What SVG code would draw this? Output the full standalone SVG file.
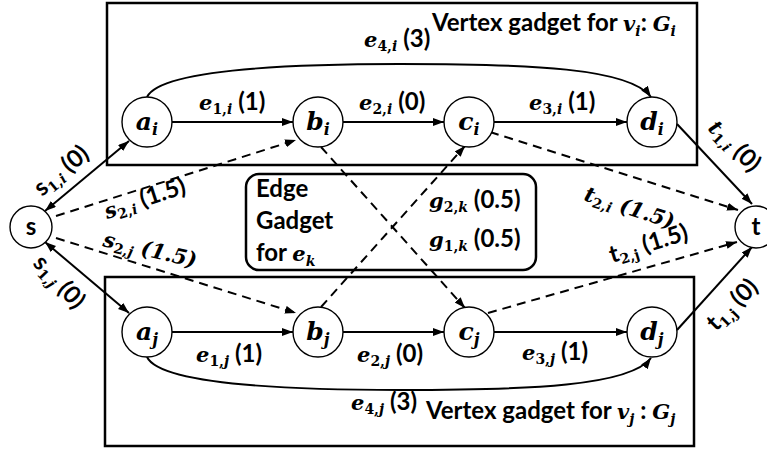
<svg xmlns="http://www.w3.org/2000/svg" width="767" height="449" viewBox="0 0 767 449">
<style>
.ln{stroke:#000;stroke-width:2;fill:none}
.dash{stroke-dasharray:9 6}
.box{fill:none;stroke:#000;stroke-width:2.5}
.nd{fill:#fff;stroke:#000;stroke-width:1.4}
.sf{font-family:Lato,"Liberation Sans",sans-serif;font-weight:bold;font-size:24px;fill:#000}
.m{font-family:"DejaVu Serif",serif;font-weight:bold;font-style:italic;font-size:21px}
.sb{font-family:"DejaVu Serif",serif;font-weight:bold;font-style:normal;font-size:14px}
.sbi{font-family:"DejaVu Serif",serif;font-weight:bold;font-style:italic;font-size:14px}
.nm{font-family:"DejaVu Serif",serif;font-weight:bold;font-style:italic;font-size:25px}
.nsb{font-family:"DejaVu Serif",serif;font-weight:bold;font-style:italic;font-size:16px}
</style>
<defs>
<marker id="ah" markerUnits="userSpaceOnUse" markerWidth="12" markerHeight="9" refX="11" refY="4" orient="auto"><path d="M0,0 L11,4 L0,8 z" fill="#000"/></marker>
<marker id="as" markerUnits="userSpaceOnUse" markerWidth="12" markerHeight="9" refX="11" refY="4" orient="auto-start-reverse"><path d="M0,0 L11,4 L0,8 z" fill="#000"/></marker>
</defs>

<g id="gadget-i"><rect class="box" x="107" y="3" width="590" height="162"/></g>
<g id="gadget-j"><rect class="box" x="105" y="277" width="589" height="169"/></g>
<g id="gadget-edge"><rect class="box" x="246" y="174" width="290" height="96" rx="13"/>
<text class="sf" x="256" y="197">Edge</text>
<text class="sf" x="256" y="229">Gadget</text>
<text class="sf" x="256" y="261">for <tspan class="m" font-size="24">e</tspan><tspan class="sbi" font-size="16" dy="5">k</tspan></text>
</g>

<g id="connectors">
<line class="ln" x1="172" y1="122" x2="293" y2="122" marker-end="url(#ah)"/>
<line class="ln" x1="343" y1="122" x2="444" y2="122" marker-end="url(#ah)"/>
<line class="ln" x1="494" y1="122" x2="627" y2="122" marker-end="url(#ah)"/>
<line class="ln" x1="172" y1="332" x2="293" y2="332" marker-end="url(#ah)"/>
<line class="ln" x1="343" y1="332" x2="444" y2="332" marker-end="url(#ah)"/>
<line class="ln" x1="494" y1="332" x2="627" y2="332" marker-end="url(#ah)"/>
<path class="ln" d="M147,97 C160,70 280,64 400,64 C530,64 630,68 651,97" marker-end="url(#ah)"/>
<path class="ln" d="M147,357 C160,384 280,390 400,390 C530,390 630,386 651,358" marker-end="url(#ah)"/>
<line class="ln" x1="45" y1="211" x2="129" y2="141" marker-start="url(#as)" marker-end="url(#ah)"/>
<line class="ln" x1="45" y1="242" x2="129" y2="313" marker-start="url(#as)" marker-end="url(#ah)"/>
<line class="ln dash" x1="56" y1="216" x2="296" y2="140" marker-end="url(#ah)"/>
<line class="ln dash" x1="56" y1="238" x2="296" y2="313" marker-end="url(#ah)"/>
<line class="ln dash" x1="321" y1="147" x2="465" y2="308" marker-end="url(#ah)"/>
<line class="ln dash" x1="321" y1="307" x2="465" y2="146" marker-end="url(#ah)"/>
<line class="ln dash" x1="490" y1="132" x2="738" y2="210" marker-end="url(#ah)"/>
<line class="ln dash" x1="488" y1="313" x2="737" y2="242" marker-end="url(#ah)"/>
<line class="ln" x1="677" y1="124" x2="752" y2="204" marker-end="url(#ah)"/>
<line class="ln" x1="677" y1="330" x2="752" y2="247" marker-end="url(#ah)"/>
</g>

<g id="edge-labels">
<text class="sf" x="199" y="110"><tspan class="m">e</tspan><tspan class="sb" dy="4">1,</tspan><tspan class="sbi">i</tspan><tspan dy="-4"> (1)</tspan></text>
<text class="sf" x="359" y="110"><tspan class="m">e</tspan><tspan class="sb" dy="4">2,</tspan><tspan class="sbi">i</tspan><tspan dy="-4"> (0)</tspan></text>
<text class="sf" x="529" y="110"><tspan class="m">e</tspan><tspan class="sb" dy="4">3,</tspan><tspan class="sbi">i</tspan><tspan dy="-4"> (1)</tspan></text>
<text class="sf" x="364" y="47"><tspan class="m">e</tspan><tspan class="sb" dy="4">4,</tspan><tspan class="sbi">i</tspan><tspan dy="-4"> (3)</tspan></text>
<text class="sf" x="432" y="31">Vertex gadget for <tspan class="m" font-size="24">v</tspan><tspan class="sbi" font-size="16" dy="5">i</tspan><tspan dy="-5">: </tspan><tspan class="m" font-size="24">G</tspan><tspan class="sbi" font-size="16" dy="5">i</tspan></text>
<text class="sf" x="196" y="362"><tspan class="m">e</tspan><tspan class="sb" dy="4">1,</tspan><tspan class="sbi">j</tspan><tspan dy="-4"> (1)</tspan></text>
<text class="sf" x="357" y="362"><tspan class="m">e</tspan><tspan class="sb" dy="4">2,</tspan><tspan class="sbi">j</tspan><tspan dy="-4"> (0)</tspan></text>
<text class="sf" x="522" y="360"><tspan class="m">e</tspan><tspan class="sb" dy="4">3,</tspan><tspan class="sbi">j</tspan><tspan dy="-4"> (1)</tspan></text>
<text class="sf" x="351" y="410"><tspan class="m">e</tspan><tspan class="sb" dy="4">4,</tspan><tspan class="sbi">j</tspan><tspan dy="-4"> (3)</tspan></text>
<text class="sf" x="426" y="419">Vertex gadget for <tspan class="m" font-size="24">v</tspan><tspan class="sbi" font-size="16" dy="5">j</tspan><tspan dy="-5"> : </tspan><tspan class="m" font-size="24">G</tspan><tspan class="sbi" font-size="16" dy="5">j</tspan></text>
<text class="sf" x="429" y="208"><tspan class="m">g</tspan><tspan class="sb" dy="4">2,</tspan><tspan class="sbi">k</tspan><tspan dy="-4"> (0.5)</tspan></text>
<text class="sf" x="429" y="247"><tspan class="m">g</tspan><tspan class="sb" dy="4">1,</tspan><tspan class="sbi">k</tspan><tspan dy="-4"> (0.5)</tspan></text>
<text class="sf" transform="translate(42,197) rotate(-40)"><tspan>s</tspan><tspan class="sb" dy="4">1,</tspan><tspan class="sbi">i</tspan><tspan dy="-4"> (0)</tspan></text>
<text class="sf" transform="translate(107,219) rotate(-18)"><tspan class="m">s</tspan><tspan class="sb" dy="4">2,</tspan><tspan class="sbi">i</tspan><tspan dy="-4"> (1.5)</tspan></text>
<text class="sf" transform="translate(102,246) rotate(13)"><tspan class="m">s</tspan><tspan class="sb" dy="4">2,</tspan><tspan class="sbi">j</tspan><tspan class="m" font-size="22" dy="-4"> (1.5)</tspan></text>
<text class="sf" transform="translate(32,264) rotate(47)"><tspan>s</tspan><tspan class="sb" dy="4">1,</tspan><tspan class="sbi">j</tspan><tspan dy="-4"> (0)</tspan></text>
<text class="sf" transform="translate(583,200) rotate(18)"><tspan class="m">t</tspan><tspan class="sb" dy="4">2,</tspan><tspan class="sbi">i</tspan><tspan class="m" font-size="23" dy="-4"> (1.5)</tspan></text>
<text class="sf" transform="translate(612,263) rotate(-17)"><tspan>t</tspan><tspan class="sb" dy="4">2,j</tspan><tspan dy="-4"> (1.5)</tspan></text>
<text class="sf" font-size="22" transform="translate(707,129) rotate(45)"><tspan class="m">t</tspan><tspan class="sb" dy="4">1,</tspan><tspan class="sbi">i</tspan><tspan dy="-4"> (0)</tspan></text>
<text class="sf" transform="translate(716,332) rotate(-45)"><tspan>t</tspan><tspan class="sb" dy="4">1,j</tspan><tspan dy="-4"> (0)</tspan></text>
</g>

<g id="node-s"><circle class="nd" cx="31" cy="227" r="21"/><text class="sf" x="31" y="235" text-anchor="middle">s</text></g>
<g id="node-t"><circle class="nd" cx="756" cy="227" r="21"/><text class="sf" x="756" y="235" text-anchor="middle">t</text></g>
<g id="node-ai"><circle class="nd" cx="147" cy="122" r="25"/><text x="147" y="130" text-anchor="middle"><tspan class="nm">a</tspan><tspan class="nsb" dy="5">i</tspan></text></g>
<g id="node-bi"><circle class="nd" cx="318" cy="122" r="25"/><text x="318" y="130" text-anchor="middle"><tspan class="nm">b</tspan><tspan class="nsb" dy="5">i</tspan></text></g>
<g id="node-ci"><circle class="nd" cx="469" cy="122" r="25"/><text x="469" y="130" text-anchor="middle"><tspan class="nm">c</tspan><tspan class="nsb" dy="5">i</tspan></text></g>
<g id="node-di"><circle class="nd" cx="652" cy="122" r="25"/><text x="652" y="130" text-anchor="middle"><tspan class="nm">d</tspan><tspan class="nsb" dy="5">i</tspan></text></g>
<g id="node-aj"><circle class="nd" cx="147" cy="332" r="25"/><text x="147" y="340" text-anchor="middle"><tspan class="nm">a</tspan><tspan class="nsb" dy="5">j</tspan></text></g>
<g id="node-bj"><circle class="nd" cx="318" cy="332" r="25"/><text x="318" y="340" text-anchor="middle"><tspan class="nm">b</tspan><tspan class="nsb" dy="5">j</tspan></text></g>
<g id="node-cj"><circle class="nd" cx="469" cy="332" r="25"/><text x="469" y="340" text-anchor="middle"><tspan class="nm">c</tspan><tspan class="nsb" dy="5">j</tspan></text></g>
<g id="node-dj"><circle class="nd" cx="652" cy="332" r="25"/><text x="652" y="340" text-anchor="middle"><tspan class="nm">d</tspan><tspan class="nsb" dy="5">j</tspan></text></g>
</svg>
